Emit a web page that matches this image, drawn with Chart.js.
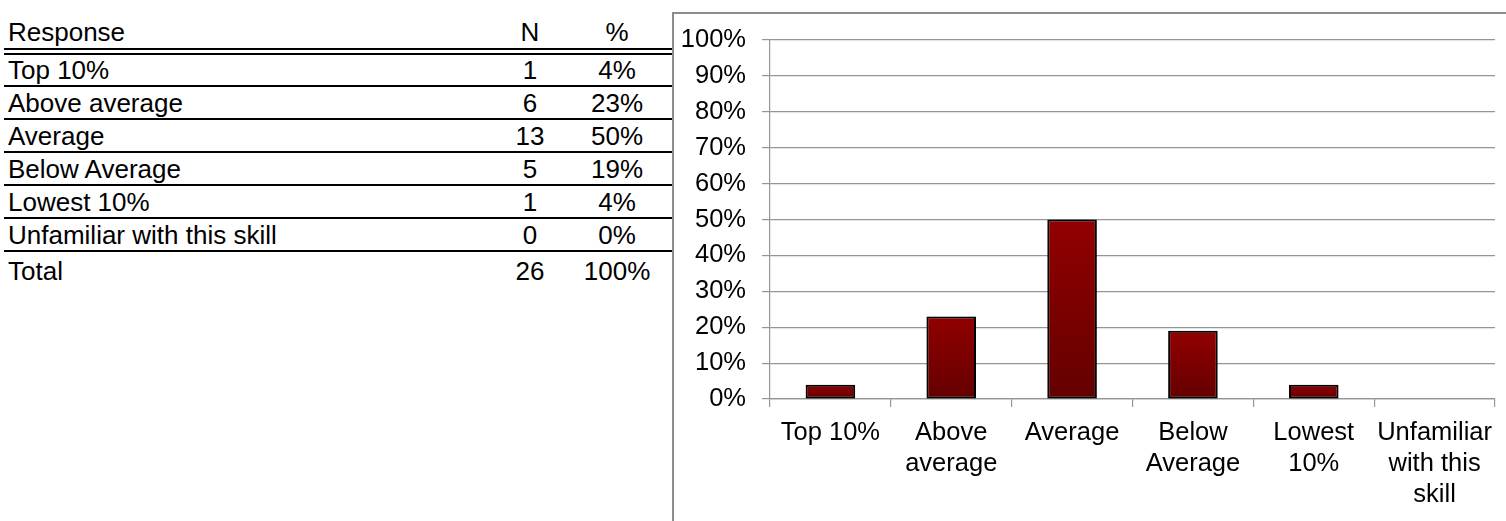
<!DOCTYPE html>
<html>
<head>
<meta charset="utf-8">
<script src="https://cdn.jsdelivr.net/npm/chart.js@4.4.1/dist/chart.umd.min.js"></script>
<style>
  html, body { margin: 0; padding: 0; background: #fff; width: 1506px; height: 521px; overflow: hidden; }
  body { font-family: 'Liberation Sans', Arial, sans-serif; color: #000; }
  #tabela { position: absolute; left: 0; top: 0; width: 672px; height: 521px; font-size: 26px; }
  .cel { position: absolute; line-height: 26px; white-space: nowrap; }
  .cel.n { left: 490px; width: 80px; text-align: center; }
  .cel.pct { left: 577px; width: 80px; text-align: center; }
  .cel.txt { left: 8px; }
  .linha { position: absolute; left: 4px; width: 668px; height: 2px; background: #000; }
  #moldura { position: absolute; left: 672px; top: 12px; right: 0; bottom: 0;
             border-left: 2px solid #8c8c8c; border-top: 2px solid #8c8c8c; }
  #grafico { position: absolute; left: 674px; top: 14px; }
</style>
</head>
<body>
<div id="tabela"></div>
<div id="moldura"></div>
<canvas id="grafico" width="832" height="507"></canvas>

<script>
// ------------------------------------------------------------
// Dados
// ------------------------------------------------------------
const respostas = ['Top 10%', 'Above average', 'Average', 'Below Average', 'Lowest 10%', 'Unfamiliar with this skill'];
const contagens = [1, 6, 13, 5, 1, 0];
const percentuais = [4, 23, 50, 19, 4, 0];
const totalN = 26;
const totalPct = 100;

const rotulosEixo = [['Top 10%'], ['Above', 'average'], ['Average'], ['Below', 'Average'], ['Lowest', '10%'], ['Unfamiliar', 'with this', 'skill']];
const ticksY = [0, 10, 20, 30, 40, 50, 60, 70, 80, 90, 100];

const CINZA = '#959595';
const FONTE = "'Liberation Sans', Arial, sans-serif";

// ------------------------------------------------------------
// Tabela
// ------------------------------------------------------------
function montarTabela() {
  const t = document.getElementById('tabela');
  let html = '';
  html += `<div class="cel txt" style="top:19px">Response</div>`;
  html += `<div class="cel n" style="top:19px">N</div>`;
  html += `<div class="cel pct" style="top:19px">%</div>`;
  html += `<div class="linha" style="top:48px"></div><div class="linha" style="top:53px"></div>`;
  respostas.forEach((r, i) => {
    const topo = 57 + 33 * i;
    html += `<div class="cel txt" style="top:${topo}px">${r}</div>`;
    html += `<div class="cel n" style="top:${topo}px">${contagens[i]}</div>`;
    html += `<div class="cel pct" style="top:${topo}px">${percentuais[i]}%</div>`;
    html += `<div class="linha" style="top:${85 + 33 * i}px"></div>`;
  });
  html += `<div class="cel txt" style="top:258px">Total</div>`;
  html += `<div class="cel n" style="top:258px">${totalN}</div>`;
  html += `<div class="cel pct" style="top:258px">${totalPct}%</div>`;
  t.innerHTML = html;
}

// ------------------------------------------------------------
// Gráfico
// ------------------------------------------------------------
function gradienteBarra(c) {
  const chart = c.chart;
  const y = chart.scales.y;
  if (!chart.chartArea || !y) return '#900000';
  const topo = y.getPixelForValue(c.raw);
  const base = y.getPixelForValue(0);
  if (base - topo < 1) return '#900000';
  const g = chart.ctx.createLinearGradient(0, topo, 0, base);
  g.addColorStop(0, '#920000');
  g.addColorStop(1, '#640000');
  return g;
}

const sombraBarras = {
  id: 'sombraBarras',
  beforeDatasetsDraw(chart) {
    const c = chart.ctx;
    c.save();
    c.shadowColor = 'rgba(0,0,0,0.3)';
    c.shadowBlur = 6;
    c.shadowOffsetX = 0;
    c.shadowOffsetY = 2;
  },
  afterDatasetsDraw(chart) {
    chart.ctx.restore();
  },
};

function montarGrafico() {
  const ctx = document.getElementById('grafico');
  new Chart(ctx, {
    type: 'bar',
    data: {
      labels: rotulosEixo,
      datasets: [{
        data: percentuais,
        backgroundColor: gradienteBarra,
        borderColor: '#000',
        borderWidth: (c) => (c.raw ? 2 : 0),
        borderSkipped: false,
        barPercentage: 0.41,
        categoryPercentage: 1,
      }],
    },
    options: {
      responsive: false,
      animation: false,
      devicePixelRatio: 1,
      layout: { padding: { top: 26, right: 11, left: 0, bottom: 0 } },
      plugins: { legend: { display: false }, tooltip: { enabled: false } },
      scales: {
        x: {
          grid: { offset: true, drawOnChartArea: false, color: CINZA, tickLength: 8, lineWidth: 1.2 },
          border: { color: CINZA, width: 1.2 },
          ticks: { color: '#000', font: { size: 25.5, family: FONTE }, padding: 11, maxRotation: 0, autoSkip: false },
          afterFit(s) { s.height = 122; s.paddingLeft = 0; s.paddingRight = 0; },
        },
        y: {
          min: ticksY[0],
          max: ticksY[ticksY.length - 1],
          afterBuildTicks(s) { s.ticks = ticksY.map((v) => ({ value: v })); },
          ticks: { color: '#000', font: { size: 25.5, family: FONTE }, padding: 16, callback: (v) => v + '%' },
          grid: { color: CINZA, tickLength: 8, lineWidth: 1.2 },
          border: { color: CINZA, width: 1.2 },
          afterFit(s) { s.width = 96; s.paddingTop = 0; s.paddingBottom = 0; },
        },
      },
    },
    plugins: [sombraBarras],
  });
}

montarTabela();
montarGrafico();
</script>
</body>
</html>
